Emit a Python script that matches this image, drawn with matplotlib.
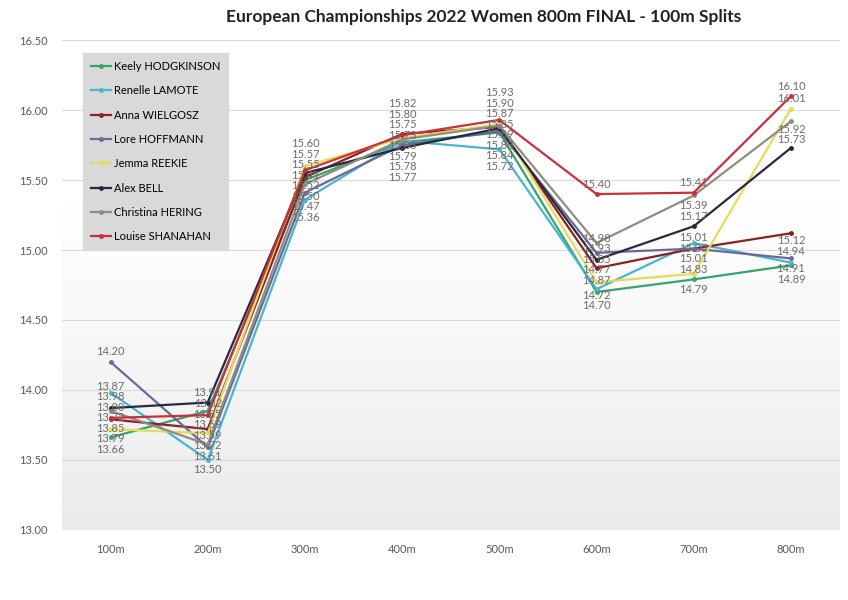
import matplotlib.pyplot as plt
import numpy as np
from matplotlib.colors import LinearSegmentedColormap

plt.rcParams["font.family"] = ["Lato", "DejaVu Sans"]

splits = ["100m", "200m", "300m", "400m", "500m", "600m", "700m", "800m"]

hodgkinson = [13.66, 13.85, 15.50, 15.77, 15.84, 14.70, 14.79, 14.89]
lamote = [13.98, 13.50, 15.36, 15.78, 15.72, 14.72, 15.05, 14.91]
wielgosz = [13.79, 13.72, 15.52, 15.83, 15.88, 14.87, 15.01, 15.12]
hoffmann = [14.20, 13.59, 15.41, 15.75, 15.85, 14.98, 15.01, 14.94]
reekie = [13.72, 13.69, 15.60, 15.80, 15.90, 14.77, 14.83, 16.01]
bell = [13.87, 13.91, 15.55, 15.73, 15.87, 14.93, 15.17, 15.73]
hering = [13.85, 13.61, 15.47, 15.79, 15.89, 15.05, 15.39, 15.92]
shanahan = [13.80, 13.82, 15.57, 15.82, 15.93, 15.40, 15.41, 16.10]

# (label, values, colour, preferred label side: 1 above / -1 below)
runners = [
    ("Keely HODGKINSON", hodgkinson, "#35a66a", -1),
    ("Renelle LAMOTE", lamote, "#47b5d0", -1),
    ("Anna WIELGOSZ", wielgosz, "#8e1f1f", -1),
    ("Lore HOFFMANN", hoffmann, "#6b6a96", 1),
    ("Jemma REEKIE", reekie, "#e4dc5a", 1),
    ("Alex BELL", bell, "#272a3e", 1),
    ("Christina HERING", hering, "#8d8d84", -1),
    ("Louise SHANAHAN", shanahan, "#c8303c", 1),
]


def group_pos(g, desired, gap):
    offs = np.arange(len(g)) * gap
    centre = np.mean([desired[i] - o for i, o in zip(g, offs)])
    return centre + offs


def spread(desired, gap):
    """Push sorted label positions apart so neighbours are at least `gap` apart."""
    groups = []
    for idx in np.argsort(desired):
        groups.append([idx])
        while len(groups) > 1:
            a, b = groups[-2], groups[-1]
            if group_pos(b, desired, gap)[0] - group_pos(a, desired, gap)[-1] < gap:
                groups[-2:] = [a + b]
            else:
                break
    out = np.zeros(len(desired))
    for g in groups:
        for idx, p in zip(g, group_pos(g, desired, gap)):
            out[idx] = p
    return out


fig = plt.figure(figsize=(8.48, 6), dpi=100)
ax = fig.add_axes([0.073, 0.117, 0.917, 0.816])

# soft grey gradient towards the bottom of the plot area
cmap = LinearSegmentedColormap.from_list("bg", ["#ebebeb", "#f6f6f6", "#ffffff", "#ffffff"])
grad = np.linspace(0, 1, 256).reshape(-1, 1)
ax.imshow(grad, extent=(0, 1, 0, 1), transform=ax.transAxes, cmap=cmap,
          aspect="auto", origin="lower", zorder=0)

x = np.arange(len(splits))
for name, values, color, side in runners:
    ax.plot(x, values, color=color, linewidth=1.6, marker="o", markersize=2.5,
            label=name, zorder=3)

ax.set_xlim(-0.5, len(splits) - 0.5)
ax.set_ylim(13.0, 16.5)

# data labels, stacked per split so they stay readable
for xi in x:
    vals = [r[1][xi] for r in runners]
    sides = [r[3] for r in runners]
    px = [ax.transData.transform((xi, v))[1] for v in vals]
    desired = np.array([p + 10 * s for p, s in zip(px, sides)])
    placed = spread(desired, 10.5)
    for v, p, y in zip(vals, px, placed):
        ax.annotate(f"{v:.2f}", (xi, v), xytext=(0, y - p), textcoords="offset pixels",
                    ha="center", va="center", fontsize=8, color="#6b6b6b", zorder=4)

ax.set_yticks(np.arange(13.0, 16.51, 0.5))
ax.set_yticklabels([f"{t:.2f}" for t in np.arange(13.0, 16.51, 0.5)])
ax.set_xticks(x)
ax.set_xticklabels(splits)
ax.tick_params(length=0, labelsize=8, labelcolor="#595959", pad=10)
ax.grid(axis="y", color="#d9d9d9", linewidth=0.8, zorder=1)
for s in ax.spines.values():
    s.set_visible(False)

leg = ax.legend(loc="upper left", bbox_to_anchor=(0.02, 0.985), fontsize=8,
                labelspacing=1.2, handlelength=1.8, handletextpad=0.3,
                borderpad=0.7, fancybox=False, facecolor="#d9d9d9",
                edgecolor="#d9d9d9", framealpha=1)
leg.set_zorder(5)

fig.suptitle("European Championships 2022 Women 800m FINAL - 100m Splits",
             x=0.57, y=0.985, fontsize=12.5, fontweight="bold", color="#222222")

fig.savefig("out.png", dpi=100)
plt.close()
